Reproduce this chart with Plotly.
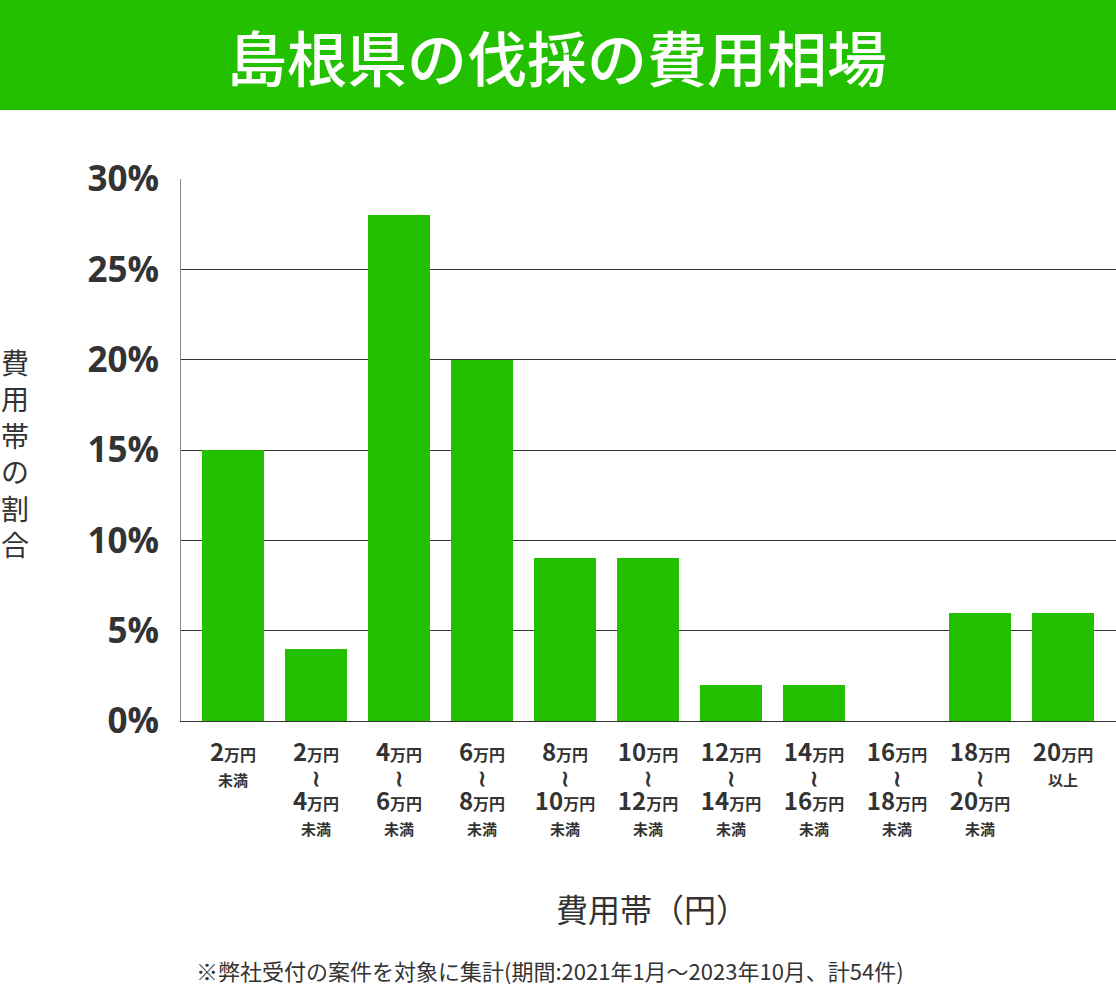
import plotly.graph_objects as go

# ---- data ----
lower_yen = ["2", "2", "4", "6", "8", "10", "12", "14", "16", "18", "20"]
upper_yen = [None, "4", "6", "8", "10", "12", "14", "16", "18", "20", None]
range_suffix = ["未満", "未満", "未満", "未満", "未満", "未満", "未満", "未満", "未満", "未満", "以上"]
share_pct = [15, 4, 28, 20, 9, 9, 2, 2, 0, 6, 6]
y_ticks = [0, 5, 10, 15, 20, 25, 30]

title_text = "島根県の伐採の費用相場"
x_title = "費用帯（円）"
y_title_chars = ["費", "用", "帯", "の", "割", "合"]
footnote = "※弊社受付の案件を対象に集計(期間:2021年1月～2023年10月、計54件)"

GREEN = "#23C000"
DARK = "#333333"

def amt(n):
    return ("<span style='font-size:24px'>%s</span>"
            "<span style='font-size:16px'>万円</span>" % n)

def small(t, size=15):
    return "<span style='font-size:%dpx'>%s</span>" % (size, t)

tick_text = []
for lo, up, suf in zip(lower_yen, upper_yen, range_suffix):
    if up is None:
        tick_text.append(amt(lo) + "<br>" + small(suf))
    else:
        tick_text.append(amt(lo) + "<br>" + small("≀", 22) + "<br>" + amt(up) + "<br>" + small(suf))

xpos = list(range(len(share_pct)))

fig = go.Figure()
fig.add_trace(go.Bar(x=xpos, y=share_pct, width=0.75,
                     marker=dict(color=GREEN, line=dict(width=0)),
                     hoverinfo="skip"))

W, H = 1116, 989
ml, mr, mt, mb = 181, 0, 179, 268
ph = H - mt - mb
pw = W - ml - mr

fig.update_layout(
    width=W, height=H,
    margin=dict(l=ml, r=mr, t=mt, b=mb, pad=0),
    paper_bgcolor="white", plot_bgcolor="white",
    showlegend=False,
    font=dict(family="Noto Sans CJK JP", color=DARK),
    bargap=0,
)

fig.update_xaxes(
    range=[-0.627, 10.639],
    tickmode="array", tickvals=xpos, ticktext=tick_text,
    tickfont=dict(family="Noto Sans CJK JP", size=19, color=DARK, weight="bold"),
    ticks="", showgrid=False, zeroline=False,
    showline=True, linecolor=DARK, linewidth=1,
    ticklabelstandoff=16,
)
fig.update_yaxes(
    range=[0, 30],
    tickmode="array", tickvals=y_ticks, ticktext=["%d%%" % v for v in y_ticks],
    tickfont=dict(family="Open Sans", size=35, color=DARK, weight="bold"),
    ticks="", showgrid=True, gridcolor=DARK, gridwidth=1,
    zeroline=False, showline=True, linecolor="#888888", linewidth=1,
    ticklabelstandoff=14,
)

# header band
fig.add_shape(type="rect", xref="paper", yref="paper",
              x0=-ml / pw, x1=1.0 + mr / pw,
              y0=1 + (mt - 110) / ph, y1=1 + mt / ph,
              fillcolor=GREEN, line=dict(width=0), layer="below")
fig.add_annotation(xref="paper", yref="paper",
                   x=(557 - ml) / pw, y=1 + (mt - 55) / ph,
                   text=title_text, showarrow=False,
                   xanchor="center", yanchor="middle",
                   font=dict(family="Noto Sans CJK JP", size=60, color="white", weight=500))

# y-axis title (vertical stacked)
fig.add_annotation(xref="paper", yref="paper",
                   x=(15 - ml) / pw, y=1 - (453 - mt) / ph,
                   text="<br>".join(y_title_chars), showarrow=False,
                   xanchor="center", yanchor="middle",
                   font=dict(family="Noto Sans CJK JP", size=28, color=DARK))

# x-axis title
fig.add_annotation(xref="paper", yref="paper",
                   x=(652 - ml) / pw, y=-(908 - mt - ph) / ph,
                   text=x_title, showarrow=False,
                   xanchor="center", yanchor="middle",
                   font=dict(family="Noto Sans CJK JP", size=32, color=DARK))

# footnote
fig.add_annotation(xref="paper", yref="paper",
                   x=(550 - ml) / pw, y=-(970 - mt - ph) / ph,
                   text=footnote, showarrow=False,
                   xanchor="center", yanchor="middle",
                   font=dict(family="Noto Sans CJK JP", size=22, color=DARK))

fig.write_html("out.html")
